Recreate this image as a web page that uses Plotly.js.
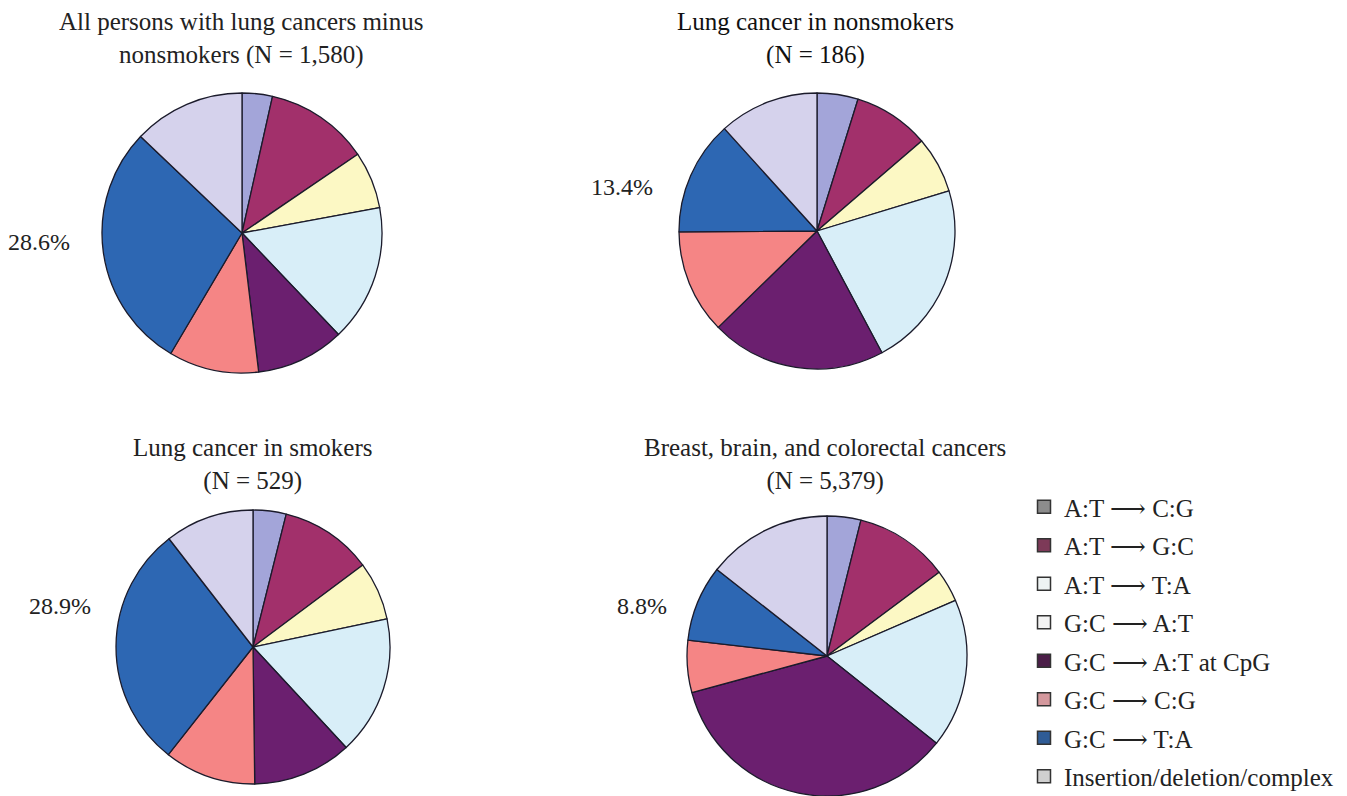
<!DOCTYPE html>
<html>
<head>
<meta charset="utf-8">
<script src="https://cdn.plot.ly/plotly-3.0.1.min.js"></script>
<style>html,body{margin:0;padding:0;background:#fff;}#chart{width:1347px;height:796px;}</style>
</head>
<body>
<div id="chart"></div>
<script>
// Mutation categories (legend order = clockwise slice order)
const categories = [
  "A:T ⟶ C:G",
  "A:T ⟶ G:C",
  "A:T ⟶ T:A",
  "G:C ⟶ A:T",
  "G:C ⟶ A:T at CpG",
  "G:C ⟶ C:G",
  "G:C ⟶ T:A",
  "Insertion/deletion/complex"
];

// Percent of mutations per group
const allMinusNonsmokers = [3.5, 12.0, 6.6, 15.8, 10.2, 10.4, 28.6, 12.9];
const nonsmokers         = [4.8, 8.9, 6.6, 21.9, 20.5, 12.2, 13.4, 11.7];
const smokers            = [3.9, 10.9, 6.9, 16.4, 11.7, 10.8, 28.9, 10.5];
const otherCancers       = [3.9, 10.9, 3.7, 17.2, 35.1, 6.0, 8.8, 14.4];

const titles = [
  "All persons with lung cancers minus<br>nonsmokers (N = 1,580)",
  "Lung cancer in nonsmokers<br>(N = 186)",
  "Lung cancer in smokers<br>(N = 529)",
  "Breast, brain, and colorectal cancers<br>(N = 5,379)"
];
const calloutLabels = ["28.6%", "13.4%", "28.9%", "8.8%"];

// Styling
const sliceColors = ["#a3a5d9", "#a2306b", "#fcf8c4", "#d8eef8", "#6b1f6f", "#f58585", "#2d67b3", "#d5d2ec"];
const legendColors = ["#8c8c8c", "#7d3a58", "#eef3f3", "#f3f3f3", "#4b1e48", "#d4989d", "#2f5c96", "#cfcfcf"];
const FONT = "Liberation Serif, DejaVu Serif, serif";

const W = 1347, H = 796;
function dom(cx, cy, r) {
  return { x: [(cx - r) / W, (cx + r) / W], y: [1 - (cy + r) / H, 1 - (cy - r) / H] };
}
const domains = [dom(242, 233, 140), dom(817, 231, 138), dom(253, 647, 137), dom(827, 656, 140)];
const datasets = [allMinusNonsmokers, nonsmokers, smokers, otherCancers];

const traces = datasets.map((vals, i) => ({
  type: "pie",
  labels: categories,
  values: vals,
  sort: false,
  direction: "clockwise",
  rotation: 0,
  textinfo: "none",
  hoverinfo: "label+percent",
  showlegend: false,
  domain: domains[i],
  marker: { colors: sliceColors, line: { color: "#1b1b2b", width: 1.3 } }
}));

// Legend entries (hidden points only used for the legend)
categories.forEach((c, i) => {
  traces.push({
    type: "scatter",
    mode: "markers",
    x: [null], y: [null],
    name: c,
    legendgroup: "g" + i,
    showlegend: true,
    hoverinfo: "skip",
    marker: { symbol: "square", size: 13, color: legendColors[i], line: { color: "#333", width: 1.5 } }
  });
});

const titlePos = [[241, 38], [815, 38], [253, 464], [825, 464]];
const calloutPos = [[39, 242], [622, 187], [60, 606], [642, 606]];

const annotations = [];
titles.forEach((t, i) => {
  annotations.push({
    text: t, xref: "paper", yref: "paper",
    x: titlePos[i][0] / W, y: 1 - titlePos[i][1] / H,
    xanchor: "center", yanchor: "middle", showarrow: false,
    font: { family: FONT, size: 25, color: i === 1 ? "#111" : "#222" }
  });
});
calloutLabels.forEach((t, i) => {
  annotations.push({
    text: t, xref: "paper", yref: "paper",
    x: calloutPos[i][0] / W, y: 1 - calloutPos[i][1] / H,
    xanchor: "center", yanchor: "middle", showarrow: false,
    font: { family: FONT, size: 24, color: "#222" }
  });
});

const layout = {
  width: W, height: H,
  margin: { l: 0, r: 0, t: 0, b: 0, autoexpand: false },
  paper_bgcolor: "#fff", plot_bgcolor: "#fff",
  showlegend: true,
  legend: {
    x: 1024 / W, y: 1 - 484 / H, xanchor: "left", yanchor: "top",
    font: { family: FONT, size: 25, color: "#222" },
    tracegroupgap: 3,
    bgcolor: "rgba(0,0,0,0)",
    itemclick: false, itemdoubleclick: false
  },
  xaxis: { visible: false, domain: [0.99, 1] },
  yaxis: { visible: false, domain: [0.99, 1] },
  annotations: annotations
};

Plotly.newPlot("chart", traces, layout, { displayModeBar: false, staticPlot: true });
</script>
</body>
</html>
